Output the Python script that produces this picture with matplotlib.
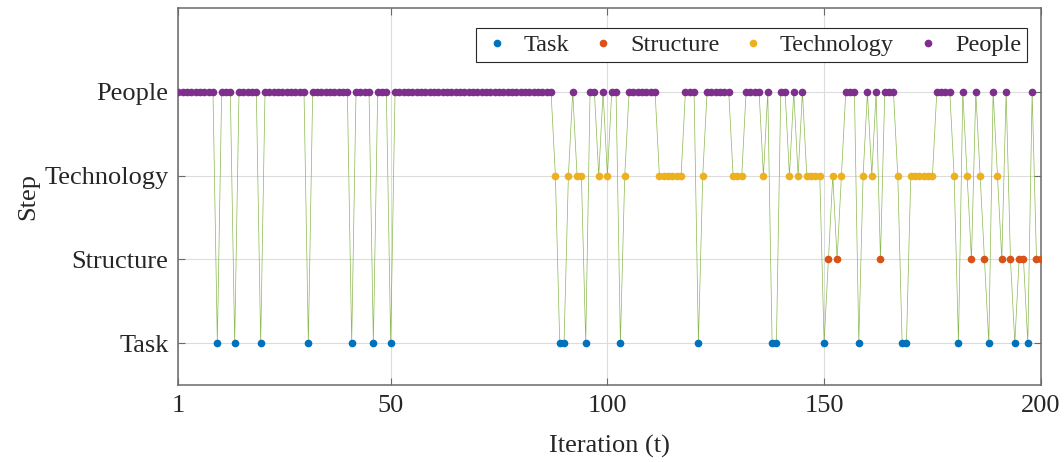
import numpy as np
import matplotlib
matplotlib.use("Agg")
import matplotlib.pyplot as plt

plt.rcParams['font.family'] = ['Liberation Serif', 'DejaVu Serif']

categories = ['Task', 'Structure', 'Technology', 'People']
colors = ['#0072BD', '#D95319', '#EDB120', '#7E2F8E']
link_color = '#77AC30'

# step chosen at each iteration: 1=Task, 2=Structure, 3=Technology, 4=People
steps = [
    4, 4, 4, 4, 4, 4, 4, 4, 4, 1, 4, 4, 4, 1, 4, 4, 4, 4, 4, 1,
    4, 4, 4, 4, 4, 4, 4, 4, 4, 4, 1, 4, 4, 4, 4, 4, 4, 4, 4, 4,
    1, 4, 4, 4, 4, 1, 4, 4, 4, 1, 4, 4, 4, 4, 4, 4, 4, 4, 4, 4,
    4, 4, 4, 4, 4, 4, 4, 4, 4, 4, 4, 4, 4, 4, 4, 4, 4, 4, 4, 4,
    4, 4, 4, 4, 4, 4, 4, 3, 1, 1, 3, 4, 3, 3, 1, 4, 4, 3, 4, 3,
    4, 4, 1, 3, 4, 4, 4, 4, 4, 4, 4, 3, 3, 3, 3, 3, 3, 4, 4, 4,
    1, 3, 4, 4, 4, 4, 4, 4, 3, 3, 3, 4, 4, 4, 4, 3, 4, 1, 1, 4,
    4, 3, 4, 3, 4, 3, 3, 3, 3, 1, 2, 3, 2, 3, 4, 4, 4, 1, 3, 4,
    3, 4, 2, 4, 4, 4, 3, 1, 1, 3, 3, 3, 3, 3, 3, 4, 4, 4, 4, 3,
    1, 4, 3, 2, 4, 3, 2, 1, 4, 3, 2, 4, 2, 1, 2, 2, 1, 4, 2, 2,
]
x_ticks = [1, 50, 100, 150, 200]

steps = np.array(steps)
t = np.arange(1, len(steps) + 1)

fig = plt.figure(figsize=(10.64, 4.62), dpi=100)
ax = fig.add_axes([0.1676, 0.167, 0.8106, 0.815])

ax.plot(t, steps, color=link_color, lw=0.5, alpha=0.85, zorder=2)
for k, (name, c) in enumerate(zip(categories, colors), start=1):
    m = steps == k
    ax.plot(t[m], steps[m], ls='none', marker='o', ms=4.5, color=c,
            label=name, zorder=3)

ax.set_xlim(1, 200)
ax.set_ylim(0.5, 5)
ax.set_xticks(x_ticks)
ax.set_yticks([1, 2, 3, 4])
ax.set_yticklabels(categories)

ax.grid(True, color='#dcdcdc', lw=0.8)
ax.set_axisbelow(True)

axis_color = '#262626'
for s in ax.spines.values():
    s.set_color('#6a6a6a')
    s.set_linewidth(1.1)
ax.tick_params(direction='in', length=5, width=0.8, color='#6a6a6a',
               labelcolor=axis_color, labelsize=19, top=True, right=True,
               pad=7)

ax.set_xlabel('Iteration (t)', fontsize=19, color=axis_color, labelpad=13)
ax.set_ylabel('Step', fontsize=19, color=axis_color, labelpad=4)

leg = ax.legend(loc='upper right', ncol=4, fontsize=17.5, frameon=True,
                fancybox=False, edgecolor=axis_color, framealpha=1,
                handlelength=1.2, handletextpad=0.5, columnspacing=0.8,
                borderpad=0.25, borderaxespad=0,
                bbox_to_anchor=(0.984, 0.947))
leg.get_frame().set_linewidth(0.8)
for txt in leg.get_texts():
    txt.set_color(axis_color)

fig.savefig('out.png', dpi=100)
